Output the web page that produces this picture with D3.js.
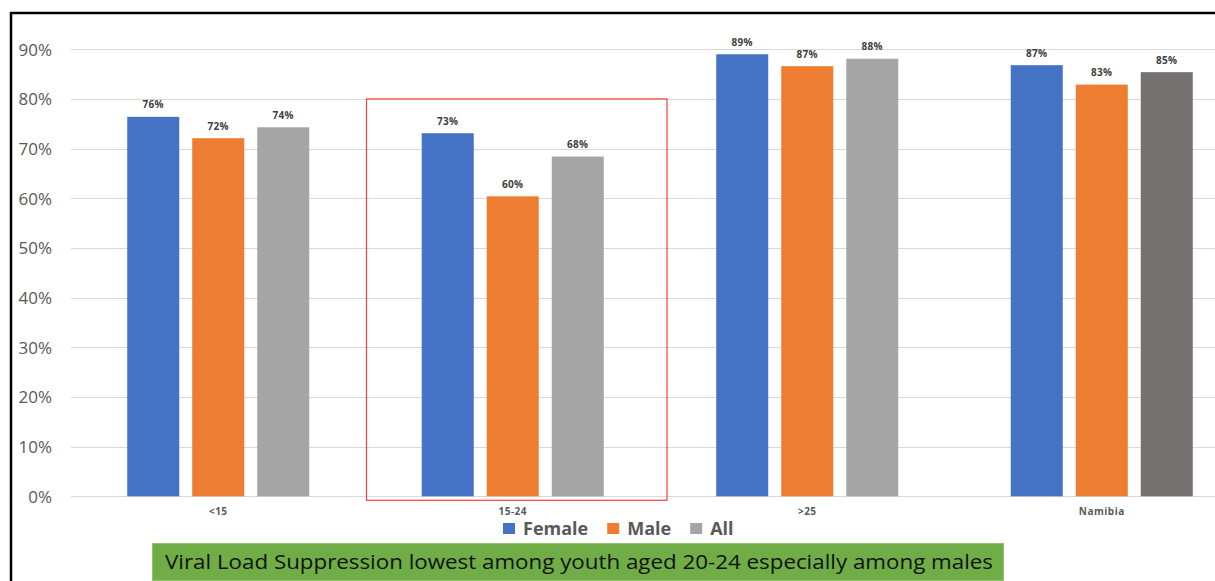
<!DOCTYPE html>
<html>
<head>
<meta charset="utf-8">
<script src="https://cdn.jsdelivr.net/npm/d3@7"></script>
<style>
  html, body { margin: 0; padding: 0; background: #fff; }
  svg { display: block; }
</style>
</head>
<body>
<svg id="chart" width="1215" height="581"></svg>
<script>
// Viral load suppression by age group and sex
const categories = ["<15", "15-24", ">25", "Namibia"];
const seriesNames = ["Female", "Male", "All"];
const female = [0.764, 0.731, 0.890, 0.868];
const male   = [0.721, 0.604, 0.866, 0.829];
const all    = [0.743, 0.684, 0.881, 0.854];
const yTicks = [0, 0.1, 0.2, 0.3, 0.4, 0.5, 0.6, 0.7, 0.8, 0.9];
const highlightCategory = "15-24";
const caption = "Viral Load Suppression lowest among youth aged 20-24 especially among males";

const seriesValues = { Female: female, Male: male, All: all };
const colors = { Female: "#4472C4", Male: "#ED7D31", All: "#A5A5A5" };
const totalColor = "#767171";

const svg = d3.select("#chart");
const W = 1215, H = 581;
const plot = { left: 71, top: 49.3, bottom: 496.3 };
const font = "'Open Sans', 'DejaVu Sans', sans-serif";

const y = d3.scaleLinear().domain([0, 0.9]).range([plot.bottom, plot.top]);
const x0 = d3.scaleBand().domain(categories).range([plot.left, plot.left + 4 * 294.5]).padding(0);
const x1 = d3.scaleBand().domain(seriesNames).range([0, x0.bandwidth()])
  .paddingInner(0.2).paddingOuter(0.865);

// Frame
svg.append("line").attr("x1", 11).attr("x2", 11).attr("y1", 12).attr("y2", H)
  .attr("stroke", "#000").attr("stroke-width", 2.5);
svg.append("line").attr("x1", 10).attr("x2", W).attr("y1", 13).attr("y2", 13)
  .attr("stroke", "#000").attr("stroke-width", 2.5);

// Gridlines
svg.append("g").selectAll("line").data(yTicks).join("line")
  .attr("x1", plot.left).attr("x2", W)
  .attr("y1", d => Math.round(y(d)) + 0.5).attr("y2", d => Math.round(y(d)) + 0.5)
  .attr("stroke", "#d9d9d9").attr("stroke-width", 1);

// Y axis labels
const yAxis = d3.axisLeft(y).tickValues(yTicks).tickFormat(d3.format(".0%")).tickSize(0).tickPadding(0);
const yg = svg.append("g").attr("transform", "translate(52,0)").call(yAxis);
yg.select(".domain").remove();
yg.selectAll("text").attr("font-family", font).attr("font-size", 17)
  .attr("fill", "#595959").attr("dy", "0.35em");

// Bars
const rows = categories.map((c, i) => seriesNames.map(s => ({ cat: c, series: s, value: seriesValues[s][i] })));
const groups = svg.append("g").selectAll("g").data(rows).join("g")
  .attr("transform", (d, i) => `translate(${x0(categories[i])},0)`);

groups.selectAll("rect").data(d => d).join("rect")
  .attr("x", d => x1(d.series))
  .attr("width", x1.bandwidth())
  .attr("y", d => y(d.value))
  .attr("height", d => y(0) - y(d.value))
  .attr("fill", d => (d.cat === "Namibia" && d.series === "All") ? totalColor : colors[d.series]);

groups.selectAll("text").data(d => d).join("text")
  .attr("x", d => x1(d.series) + x1.bandwidth() / 2)
  .attr("y", d => y(d.value) - 8.5)
  .attr("text-anchor", "middle")
  .attr("font-family", font).attr("font-size", 10).attr("font-weight", "bold")
  .attr("fill", "#404040").attr("letter-spacing", 0.3)
  .text(d => d3.format(".0%")(d.value));

// Category labels
const xAxis = d3.axisBottom(x0).tickSize(0).tickPadding(0);
const xg = svg.append("g").attr("transform", `translate(0,${plot.bottom + 19})`).call(xAxis);
xg.select(".domain").remove();
xg.selectAll("text").attr("font-family", font).attr("font-size", 10).attr("font-weight", "bold")
  .attr("fill", "#595959").attr("dy", 0).attr("letter-spacing", 0.5);

// Highlight box around youth group
const hx = x0(highlightCategory);
svg.append("rect")
  .attr("x", hx + 1).attr("y", y(0.8))
  .attr("width", x0.bandwidth() + 6).attr("height", y(0) - y(0.8) + 4)
  .attr("fill", "none").attr("stroke", "#ff3b3b").attr("stroke-width", 1.2);

// Legend
const legend = svg.append("g");
let lx = 503;
seriesNames.forEach(s => {
  legend.append("rect").attr("x", lx).attr("y", 523).attr("width", 12).attr("height", 11).attr("fill", colors[s]);
  const t = legend.append("text").attr("x", lx + 20).attr("y", 534.5)
    .attr("font-family", font).attr("font-size", 18).attr("font-weight", "bold")
    .attr("fill", "#595959").text(s);
  lx += 20 + t.node().getComputedTextLength() + 19;
});

// Caption banner
svg.append("rect").attr("x", 152.5).attr("y", 543.5).attr("width", 851).attr("height", 37)
  .attr("fill", "#70AD47").attr("stroke", "#8fc46a").attr("stroke-width", 1);
svg.append("text").attr("x", 165).attr("y", 569)
  .attr("font-family", font).attr("font-size", 20.5)
  .attr("fill", "#111").attr("textLength", 828).attr("lengthAdjust", "spacingAndGlyphs")
  .text(caption);
</script>
</body>
</html>
